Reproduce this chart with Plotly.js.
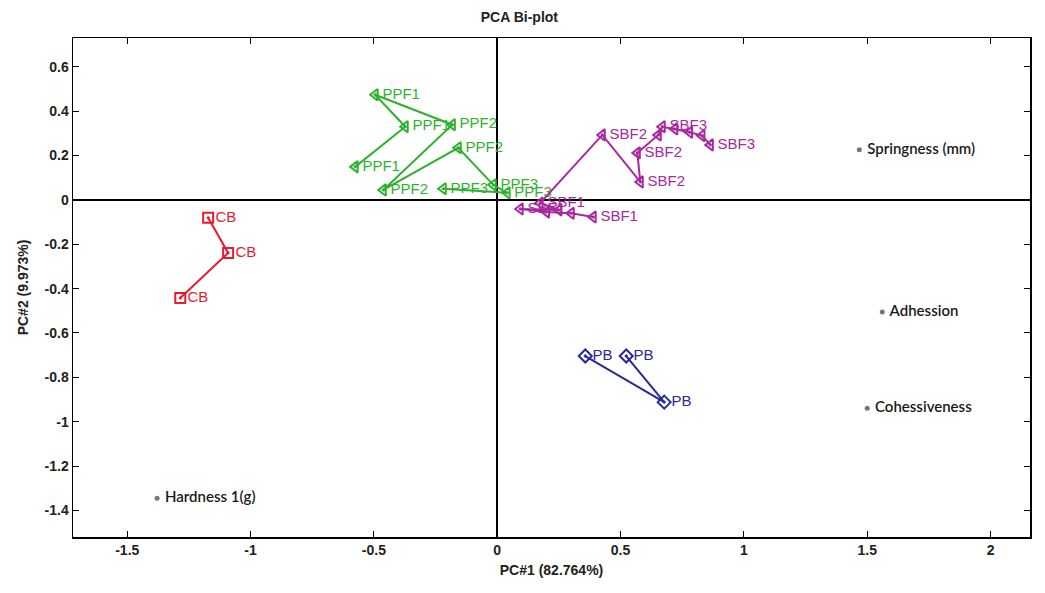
<!DOCTYPE html>
<html>
<head>
<meta charset="utf-8">
<script src="https://cdn.plot.ly/plotly-3.0.1.min.js"></script>
<style>html,body{margin:0;padding:0;background:#fff}#chart{width:1045px;height:593px}</style>
</head>
<body>
<div id="chart"></div>
<script>
// Samples (scores)
const cbX = [-1.172, -1.091, -1.285];
const cbY = [-0.081, -0.239, -0.442];
const cbLabels = ["CB", "CB", "CB"];

const pbX = [0.357, 0.677, 0.523];
const pbY = [-0.704, -0.912, -0.704];
const pbLabels = ["PB", "PB", "PB"];

const ppfX = [-0.576, -0.373, -0.495, -0.182, -0.462, -0.158, -0.016, 0.040, -0.219];
const ppfY = [0.149, 0.330, 0.474, 0.339, 0.045, 0.235, 0.068, 0.032, 0.050];
const ppfLabels = ["PPF1", "PPF1", "PPF1", "PPF2", "PPF2", "PPF2", "PPF3", "PPF3", "PPF3"];

const sbfX = [0.389, 0.300, 0.200, 0.093, 0.250, 0.174, 0.426, 0.580, 0.568, 0.653, 0.669, 0.720, 0.780, 0.830, 0.864];
const sbfY = [-0.077, -0.060, -0.055, -0.041, -0.045, -0.014, 0.293, 0.081, 0.212, 0.293, 0.330, 0.320, 0.305, 0.290, 0.248];
const sbfLabels = ["SBF1", "", "", "SBF1", "", "SBF1", "SBF2", "SBF2", "SBF2", "", "SBF3", "", "", "", "SBF3"];

// Variables (loadings)
const varX = [1.468, 1.561, 1.500, -1.379];
const varY = [0.226, -0.506, -0.939, -1.345];
const varLabels = ["Springness (mm)", "Adhession", "Cohessiveness", "Hardness 1(g)"];

// Tick labels
const xTickVals = [-1.5, -1, -0.5, 0, 0.5, 1, 1.5, 2];
const xTickText = ["-1.5", "-1", "-0.5", "0", "0.5", "1", "1.5", "2"];
const yTickVals = [0.6, 0.4, 0.2, 0, -0.2, -0.4, -0.6, -0.8, -1, -1.2, -1.4];
const yTickText = ["0.6", "0.4", "0.2", "0", "-0.2", "-0.4", "-0.6", "-0.8", "-1", "-1.2", "-1.4"];

const lblFont = {family: "Liberation Sans, Arial, sans-serif", size: 15};

function group(x, y, t, color, symbol) {
  return {
    x: x, y: y, text: t, type: "scatter", mode: "lines+markers+text",
    textposition: "middle right",
    line: {color: color, width: 2},
    marker: {symbol: symbol, size: 10, color: color, line: {width: 2, color: color}},
    textfont: Object.assign({color: color}, lblFont),
    cliponaxis: false, hoverinfo: "skip"
  };
}

const traces = [
  group(ppfX, ppfY, ppfLabels, "rgb(46,178,46)", "triangle-left-open-dot"),
  group(sbfX, sbfY, sbfLabels, "rgb(168,40,160)", "triangle-left-open-dot"),
  group(cbX, cbY, cbLabels, "rgb(228,28,48)", "square-open-dot"),
  group(pbX, pbY, pbLabels, "rgb(40,40,150)", "diamond-open-dot"),
  {
    x: varX, y: varY, text: varLabels.map(s => " " + s), type: "scatter", mode: "markers+text",
    textposition: "middle right",
    marker: {size: 5, color: "#777"},
    textfont: {family: "Lato, Liberation Sans, sans-serif", size: 15, color: "#1a1a1a", weight: 600},
    cliponaxis: false, hoverinfo: "skip"
  }
];

const tickFont = {family: "Liberation Sans Narrow, Liberation Sans, Arial, sans-serif", size: 14, color: "#222", weight: "bold"};
const titleFont = {family: "Liberation Sans Narrow, Liberation Sans, Arial, sans-serif", size: 14, color: "#222", weight: "bold"};

const axisCommon = {
  showgrid: false, zeroline: true, zerolinecolor: "#000", zerolinewidth: 2,
  showline: true, linecolor: "#000", linewidth: 1.5, mirror: "ticks",
  ticks: "inside", ticklen: 6, tickcolor: "#000", tickwidth: 1,
  tickfont: tickFont
};

const layout = {
  width: 1045, height: 593,
  margin: {l: 73, r: 15, t: 38, b: 56},
  paper_bgcolor: "#fff", plot_bgcolor: "#fff",
  showlegend: false,
  title: {text: "PCA Bi-plot", x: 0.497, xanchor: "center", y: 0.972, yanchor: "middle",
          font: {family: "Liberation Sans Narrow, Liberation Sans, Arial, sans-serif", size: 14, color: "#222", weight: "bold"}},
  xaxis: Object.assign({}, axisCommon, {
    range: [-1.72, 2.16], tickmode: "array", tickvals: xTickVals, ticktext: xTickText,
    title: {text: "PC#1 (82.764%)", standoff: 8, font: titleFont}
  }),
  yaxis: Object.assign({}, axisCommon, {
    range: [-1.52, 0.73], tickmode: "array", tickvals: yTickVals, ticktext: yTickText,
    title: {text: "PC#2 (9.973%)", standoff: 12, font: titleFont}
  })
};

Plotly.newPlot("chart", traces, layout, {displayModeBar: false, staticPlot: true});
</script>
</body>
</html>
